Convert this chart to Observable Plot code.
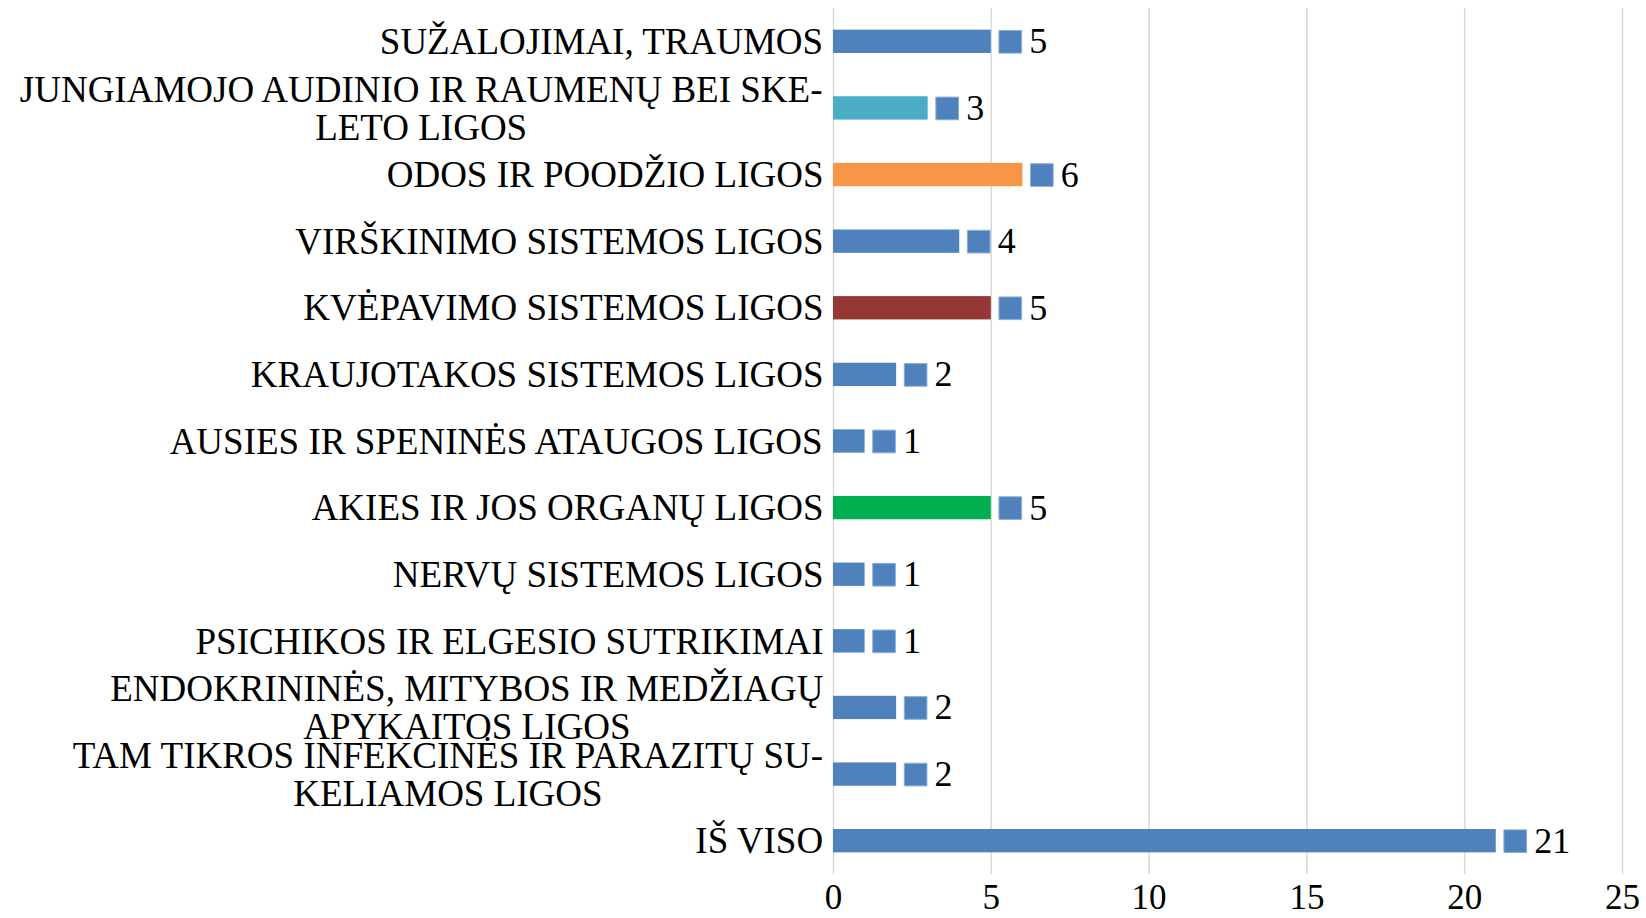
<!DOCTYPE html>
<html>
<head>
<meta charset="utf-8">
<script src="https://cdn.jsdelivr.net/npm/d3@7"></script>
<script src="https://cdn.jsdelivr.net/npm/@observablehq/plot@0.6"></script>
<style>
  html, body { margin: 0; padding: 0; background: #fff; }
  svg { display: block; }
</style>
</head>
<body>
<div id="chart"></div>
<script>
const categories = [
  "SUŽALOJIMAI, TRAUMOS",
  "JUNGIAMOJO AUDINIO IR RAUMENŲ BEI SKE-\nLETO LIGOS",
  "ODOS IR POODŽIO LIGOS",
  "VIRŠKINIMO SISTEMOS LIGOS",
  "KVĖPAVIMO SISTEMOS LIGOS",
  "KRAUJOTAKOS SISTEMOS LIGOS",
  "AUSIES IR SPENINĖS ATAUGOS LIGOS",
  "AKIES IR JOS ORGANŲ LIGOS",
  "NERVŲ SISTEMOS LIGOS",
  "PSICHIKOS IR ELGESIO SUTRIKIMAI",
  "ENDOKRININĖS, MITYBOS IR MEDŽIAGŲ\nAPYKAITOS LIGOS",
  "TAM TIKROS INFEKCINĖS IR PARAZITŲ SU-\nKELIAMOS LIGOS",
  "IŠ VISO"
];
const values = [5, 3, 6, 4, 5, 2, 1, 5, 1, 1, 2, 2, 21];
const barColors = ["#4F81BD", "#4BACC6", "#F79646", "#4F81BD", "#953735", "#4F81BD", "#4F81BD", "#00B050", "#4F81BD", "#4F81BD", "#4F81BD", "#4F81BD", "#4F81BD"];
const xTicks = [0, 5, 10, 15, 20, 25];

const data = categories.map((c, i) => ({cat: c, value: values[i], color: barColors[i]}));

const FONT = "'Liberation Serif', 'Times New Roman', serif";
const labelSize = 37;
const canvas = document.createElement("canvas");
const ctx = canvas.getContext("2d");
ctx.font = `${labelSize}px ${FONT}`;
const gap = 10;

const labelMarks = categories.map(c => {
  const w = d3.max(c.split("\n"), s => ctx.measureText(s).width);
  return Plot.text([c], {
    y: d => d,
    text: d => d,
    frameAnchor: "left",
    textAnchor: "middle",
    dx: -(gap + w / 2),
    fontSize: labelSize,
    lineHeight: 1.03,
    fill: "#000"
  });
});

const chart = Plot.plot({
  width: 1646,
  height: 918,
  marginTop: 8,
  marginBottom: 44,
  marginLeft: 833,
  marginRight: 24,
  style: {fontFamily: FONT, background: "#fff", overflow: "visible"},
  x: {domain: [0, 25]},
  y: {domain: categories, paddingInner: 0.65, paddingOuter: 0.325, round: false, axis: null},
  color: {type: "identity"},
  marks: [
    Plot.gridX(xTicks, {stroke: "#d9d9d9", strokeOpacity: 1, strokeWidth: 1.5}),
    Plot.axisX({ticks: xTicks, tickSize: 0, tickPadding: 10, fontSize: 35, fill: "#000", label: null}),
    Plot.barX(data, {x: "value", y: "cat", fill: "color"}),
    Plot.dot(data, {x: "value", y: "cat", symbol: "square", r: 12.8, dx: 19, fill: "#4F81BD", stroke: "#8EAEDA", strokeWidth: 1}),
    Plot.text(data, {x: "value", y: "cat", text: d => String(d.value), dx: 38, textAnchor: "start", fontSize: 36, fill: "#000"}),
    ...labelMarks
  ]
});
document.getElementById("chart").appendChild(chart);
</script>
</body>
</html>
